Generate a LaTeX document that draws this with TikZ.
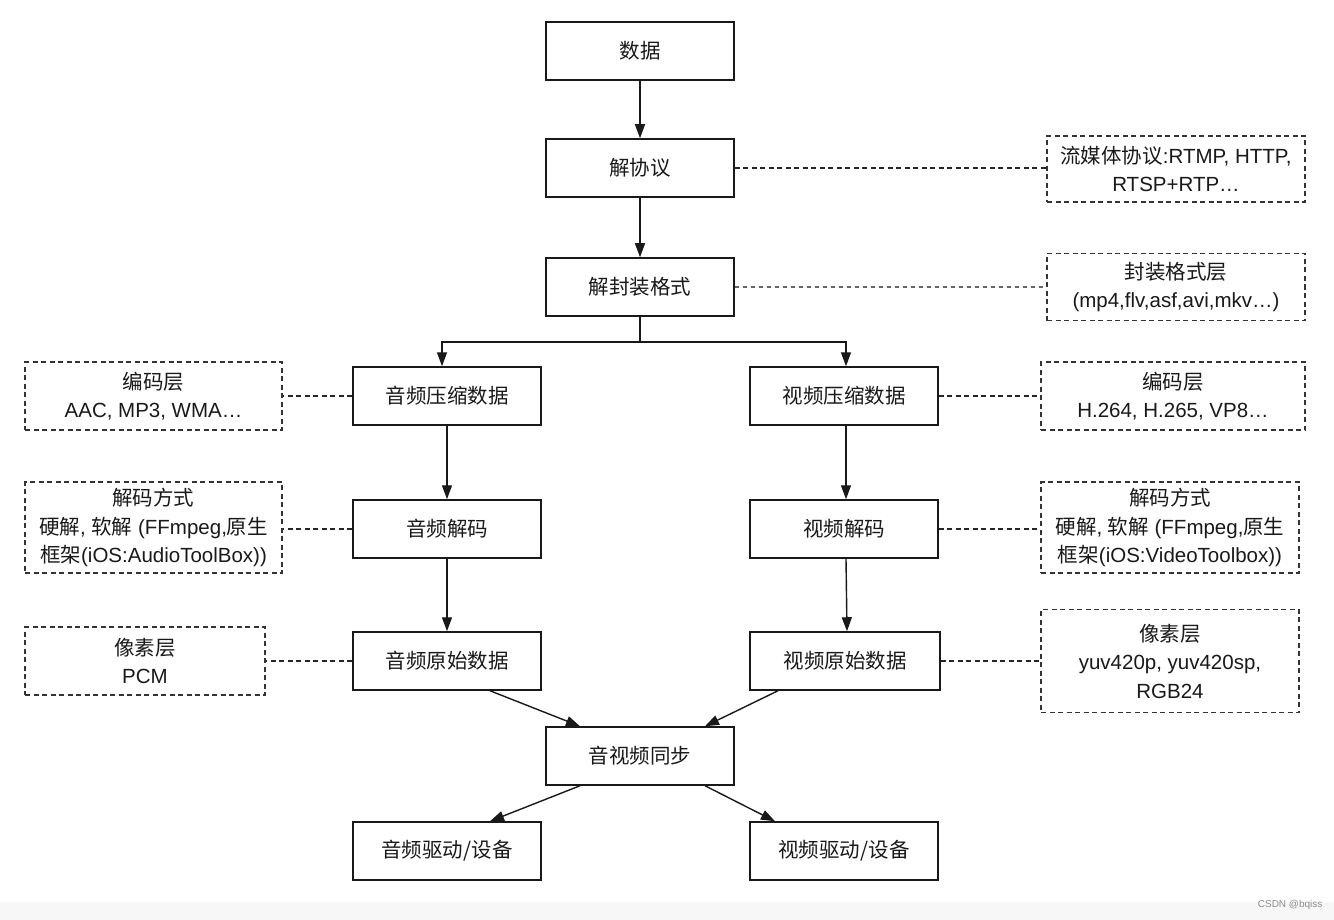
\documentclass[tikz,border=0pt]{standalone}
\usepackage{fontspec}
\setmainfont{Liberation Sans}
\newfontfamily\cjk{Noto Sans CJK SC}
\usetikzlibrary{arrows.meta}
\begin{document}
\begin{tikzpicture}[x=1pt,y=-1pt,
  txt/.style={font=\fontsize{20.5pt}{28.5pt}\selectfont, text=black!90},
  stepbox/.style={txt, draw=black!90, line width=1.5pt, minimum width=188pt, minimum height=58pt, inner sep=0pt, font=\cjk\fontsize{20.5pt}{28.5pt}\selectfont},
  note/.style={txt, draw=black!80, line width=1.2pt, dash pattern=on 5pt off 3.5pt, align=center, inner sep=0pt},
  arr/.style={draw=black!90, line width=1.4pt, -{Triangle[length=14pt,width=10pt]}},
  plain/.style={draw=black!90, line width=1.4pt},
  conn/.style={draw=black!85, line width=1.2pt, dash pattern=on 5pt off 3.5pt},
  connlight/.style={draw=black!60, line width=1.1pt, dash pattern=on 4pt off 4pt}]
\useasboundingbox (0,0) rectangle (1334,920);
\fill[white] (0,0) rectangle (1334,920);
\fill[black!3] (0,902) rectangle (1334,920);

% main chain
\node[stepbox] (data)  at (640,51)  {数据};
\node[stepbox] (proto) at (640,168) {解协议};
\node[stepbox] (demux) at (640,287) {解封装格式};
\node[stepbox] (aenc)  at (447,396) {音频压缩数据};
\node[stepbox] (venc)  at (844,396) {视频压缩数据};
\node[stepbox] (adec)  at (447,529) {音频解码};
\node[stepbox] (vdec)  at (844,529) {视频解码};
\node[stepbox] (araw)  at (447,661) {音频原始数据};
\node[stepbox, minimum width=190pt] (vraw)  at (845,661) {视频原始数据};
\node[stepbox] (sync)  at (640,756) {音视频同步};
\node[stepbox] (adrv)  at (447,851) {音频驱动/设备};
\node[stepbox] (vdrv)  at (844,851) {视频驱动/设备};

% notes
\node[note, minimum width=258pt, minimum height=66pt] (nproto) at (1176,169)
  {{\cjk 流媒体协议}:RTMP, HTTP,\\RTSP+RTP…};
\node[note, minimum width=258pt, minimum height=67pt] (ndemux) at (1176,287)
  {{\cjk 封装格式层}\\(mp4,flv,asf,avi,mkv…)};
\node[note, minimum width=257pt, minimum height=68pt] (naenc) at (153.5,396)
  {{\cjk 编码层}\\AAC, MP3, WMA…};
\node[note, minimum width=264pt, minimum height=68pt] (nvenc) at (1173,396)
  {{\cjk 编码层}\\H.264, H.265, VP8…};
\node[note, minimum width=257pt, minimum height=91pt] (nadec) at (153.5,527.5)
  {{\cjk 解码方式}\\{\cjk 硬解}, {\cjk 软解} (FFmpeg,{\cjk 原生}\\{\cjk 框架}(iOS:AudioToolBox))};
\node[note, minimum width=258pt, minimum height=91pt] (nvdec) at (1170,527.5)
  {{\cjk 解码方式}\\{\cjk 硬解}, {\cjk 软解} (FFmpeg,{\cjk 原生}\\{\cjk 框架}(iOS:VideoToolbox))};
\node[note, minimum width=240pt, minimum height=68pt] (naraw) at (145,661)
  {{\cjk 像素层}\\PCM};
\node[note, minimum width=258pt, minimum height=103pt] (nvraw) at (1170,661)
  {{\cjk 像素层}\\yuv420p, yuv420sp,\\RGB24};

% arrows
\draw[arr] (data) -- (proto);
\draw[arr] (proto) -- (demux);
\coordinate (split) at (640,342);
\draw[plain] (demux.south) -- (split);
\draw[arr] (split) -| ([xshift=-5pt]aenc.north);
\draw[arr] (split) -| ([xshift=2pt]venc.north);
\draw[arr] (aenc) -- (adec);
\draw[arr] (adec) -- (araw);
\draw[arr] ([xshift=2pt]venc.south) -- ([xshift=2pt]vdec.north);
\draw[arr] ([xshift=2pt]vdec.south) -- ([xshift=2pt]vraw.north);
\draw[arr] ([xshift=43pt]araw.south) -- ([xshift=-60pt]sync.north);
\draw[arr] ([xshift=-67pt]vraw.south) -- ([xshift=65pt]sync.north);
\draw[arr] ([xshift=-60pt]sync.south) -- ([xshift=43pt]adrv.north);
\draw[arr] ([xshift=65pt]sync.south) -- ([xshift=-69pt]vdrv.north);

% dashed connectors
\draw[conn] (proto.east) -- (proto.east -| nproto.west);
\draw[connlight] (demux.east) -- (ndemux.west);
\draw[conn] (aenc.west) -- (naenc.east);
\draw[conn] (venc.east) -- (nvenc.west);
\draw[conn] (adec.west) -- (adec.west -| nadec.east);
\draw[conn] (vdec.east) -- (vdec.east -| nvdec.west);
\draw[conn] (araw.west) -- (naraw.east);
\draw[conn] (vraw.east) -- (nvraw.west);

% watermark
\node[font=\fontsize{10pt}{12pt}\selectfont, text=black!45, anchor=east] (wm) at (1326,905) {CSDN @bqiss};
\end{tikzpicture}
\end{document}
